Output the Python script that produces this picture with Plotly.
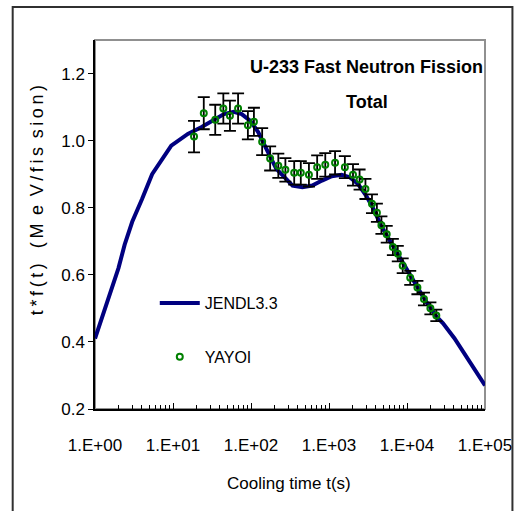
import plotly.graph_objects as go

# JENDL3.3 calculated curve
jendl_t = [1, 2.0, 2.4, 3.0, 4.0, 5.4, 9.5, 15.5, 23, 34, 45, 60, 76, 98, 124, 158, 211,
           282, 341, 456, 610, 813, 1086, 1452, 1845, 2350, 2990, 3800, 4610, 6170, 8630,
           12100, 17000, 23800, 28800, 40500, 54000, 75500, 100000]
jendl_v = [0.41, 0.62, 0.69, 0.758, 0.825, 0.90, 0.985, 1.020, 1.040, 1.064, 1.079, 1.086,
           1.079, 1.059, 1.025, 0.975, 0.916, 0.886, 0.866, 0.861, 0.866, 0.881, 0.894, 0.898,
           0.891, 0.871, 0.836, 0.792, 0.748, 0.698, 0.639, 0.584, 0.525, 0.476, 0.456, 0.411,
           0.367, 0.317, 0.27]

# YAYOI measurement
yayoi_t = [18.6, 24.8, 34.8, 44.2, 53.7, 68.3, 91.2, 109, 139, 176, 224, 276, 358, 435, 553,
           705, 896, 1196, 1597, 2031, 2466, 2932, 3556, 4111, 4700, 5495, 6590, 7620, 8810,
           11000, 13600, 16500, 19950, 23760]
yayoi_v = [1.012, 1.082, 1.062, 1.096, 1.074, 1.096, 1.046, 1.056, 0.997, 0.947, 0.925, 0.913,
           0.904, 0.904, 0.898, 0.921, 0.928, 0.934, 0.921, 0.898, 0.884, 0.856, 0.812, 0.785,
           0.748, 0.721, 0.683, 0.663, 0.627, 0.591, 0.562, 0.528, 0.500, 0.479]
yayoi_err = [0.047, 0.048, 0.045, 0.045, 0.045, 0.045, 0.042, 0.042, 0.040, 0.036, 0.036, 0.035,
             0.035, 0.035, 0.035, 0.035, 0.035, 0.035, 0.033, 0.032, 0.030, 0.030, 0.028, 0.027,
             0.026, 0.025, 0.024, 0.023, 0.022, 0.021, 0.020, 0.019, 0.018, 0.017]

x_tickvals = [1, 10, 100, 1000, 10000, 100000]
x_ticktext = ["1.E+00", "1.E+01", "1.E+02", "1.E+03", "1.E+04", "1.E+05"]
x_minorvals = [m * d for d in [1, 10, 100, 1000, 10000] for m in range(2, 10)]
y_tickvals = [0.2, 0.4, 0.6, 0.8, 1.0, 1.2]

FONT = "Liberation Sans, Arial, sans-serif"
TS = "\u2009"  # thin space used for the letter-spaced axis title
y_title = (TS.join("t*f(t)") + "   " + TS.join("(M") + TS + " e" + TS + " V" + TS
           + TS.join("/fis") + TS + " " + TS.join("sion)"))

fig = go.Figure()
fig.add_trace(go.Scatter(
    x=jendl_t, y=jendl_v, mode="lines", name="JENDL3.3", legendgroup="a",
    line=dict(color="#000080", width=4), cliponaxis=False))
fig.add_trace(go.Scatter(
    x=yayoi_t, y=yayoi_v, mode="markers", name="YAYOI", legendgroup="b",
    marker=dict(symbol="circle-open", size=6, color="#008000", line=dict(width=2, color="#008000")),
    error_y=dict(type="data", array=yayoi_err, visible=True, color="black", thickness=1.8, width=6)))

W, H = 524, 511
ml, mr, mt, mb = 95, 31, 40, 102
pw, ph = W - ml - mr, H - mt - mb

def px(x):
    return (x - ml) / pw

def py(y):
    return (H - mb - y) / ph

fig.update_layout(
    width=W, height=H,
    margin=dict(l=ml, r=mr, t=mt, b=mb),
    paper_bgcolor="white", plot_bgcolor="white",
    font=dict(family=FONT, size=16, color="black"),
    showlegend=True,
    legend=dict(x=px(156), y=py(286), xanchor="left", yanchor="top",
                bgcolor="rgba(0,0,0,0)", font=dict(size=16, family=FONT),
                traceorder="grouped", tracegroupgap=30, itemwidth=40),
    xaxis=dict(type="log", range=[0, 5], tickvals=x_tickvals, ticktext=x_ticktext,
               showgrid=False, zeroline=False, showline=True, linecolor="black", linewidth=1.5,
               ticks="inside", ticklen=6, tickcolor="black", tickwidth=1,
               ticklabelstandoff=20,
               minor=dict(ticks="inside", ticklen=4, tickcolor="black", tickmode="array",
                          tickvals=x_minorvals, showgrid=False),
               tickfont=dict(size=17, family=FONT)),
    yaxis=dict(range=[0.2, 1.3], tickvals=y_tickvals, tickformat=".1f",
               showgrid=False, zeroline=False, showline=True, linecolor="black", linewidth=1.5,
               ticks="outside", ticklen=5, tickcolor="black",
               tickfont=dict(size=17, family=FONT)),
    shapes=[
        dict(type="rect", xref="paper", yref="paper", x0=0, x1=1, y0=0, y1=1,
             line=dict(color="#909090", width=2), layer="below"),
        dict(type="rect", xref="paper", yref="paper", x0=px(11), x1=px(521), y0=py(7), y1=py(512),
             line=dict(color="#303030", width=2), layer="above"),
    ],
    annotations=[
        dict(text="<b>U-233 Fast Neutron Fission</b>", xref="paper", yref="paper",
             x=px(372), y=py(67), xanchor="center", yanchor="middle", showarrow=False,
             font=dict(size=18, family=FONT)),
        dict(text="<b>Total</b>", xref="paper", yref="paper",
             x=px(373), y=py(102), xanchor="center", yanchor="middle", showarrow=False,
             font=dict(size=18, family=FONT)),
        dict(text="Cooling time t(s)", xref="paper", yref="paper",
             x=px(293), y=py(483), xanchor="center", yanchor="middle", showarrow=False,
             font=dict(size=17, family=FONT)),
        dict(text=y_title, xref="paper", yref="paper",
             x=px(36), y=py(200), xanchor="center", yanchor="middle", showarrow=False,
             textangle=-90, font=dict(size=18, family=FONT)),
    ],
)

fig.write_html("out.html")
